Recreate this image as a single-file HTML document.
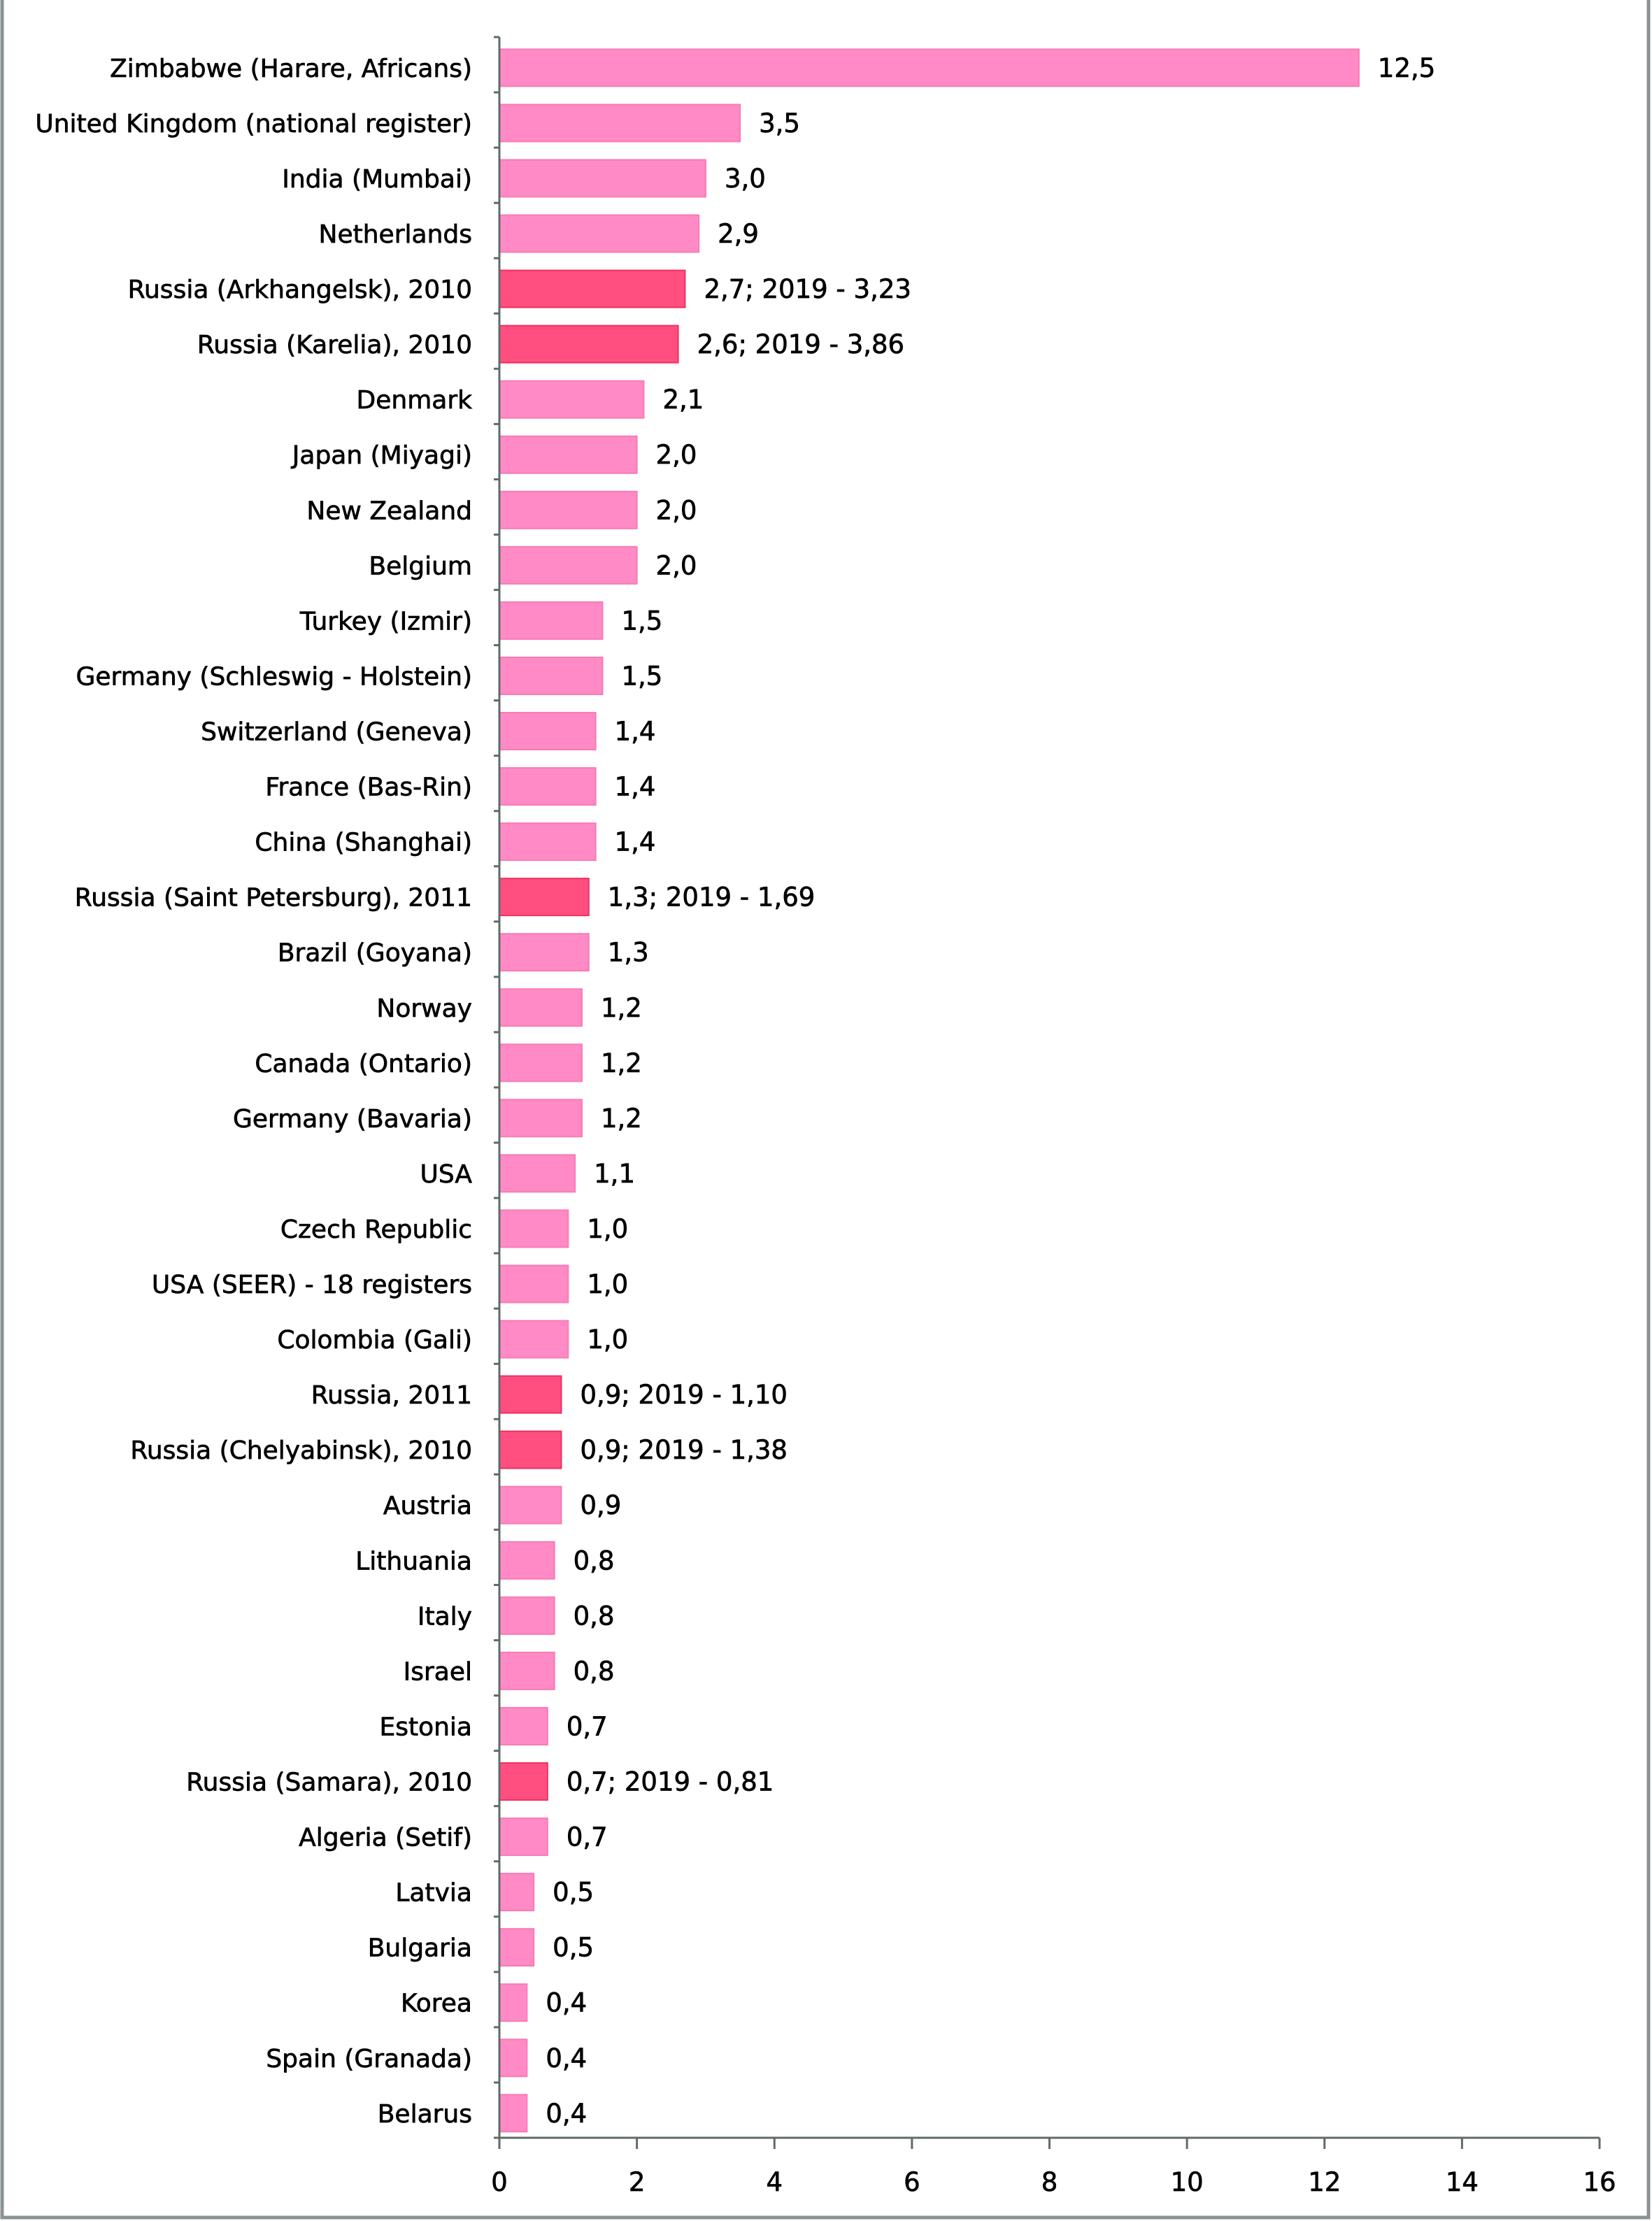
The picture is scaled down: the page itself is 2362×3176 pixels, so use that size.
<!DOCTYPE html>
<html><head><meta charset="utf-8"><style>
html,body{margin:0;padding:0;background:#fff}
svg{display:block}
text{font-family:"DejaVu Sans","Liberation Sans",sans-serif;fill:#000;stroke:#000;stroke-width:0.7px}
</style></head><body>
<svg id="chart" width="2362" height="3176" viewBox="0 0 2362 3176">
<rect x="3" y="-5" width="2354" height="3176" fill="#fff" stroke="#8a9296" stroke-width="5"/>
<g id="bars"></g>
<g id="axes"></g>
</svg>
<script>
const categories=["Zimbabwe (Harare, Africans)","United Kingdom (national register)","India (Mumbai)","Netherlands","Russia (Arkhangelsk), 2010","Russia (Karelia), 2010","Denmark","Japan (Miyagi)","New Zealand","Belgium","Turkey (Izmir)","Germany (Schleswig - Holstein)","Switzerland (Geneva)","France (Bas-Rin)","China (Shanghai)","Russia (Saint Petersburg), 2011","Brazil (Goyana)","Norway","Canada (Ontario)","Germany (Bavaria)","USA","Czech Republic","USA (SEER) - 18 registers","Colombia (Gali)","Russia, 2011","Russia (Chelyabinsk), 2010","Austria","Lithuania","Italy","Israel","Estonia","Russia (Samara), 2010","Algeria (Setif)","Latvia","Bulgaria","Korea","Spain (Granada)","Belarus"];
const values=[12.5,3.5,3.0,2.9,2.7,2.6,2.1,2.0,2.0,2.0,1.5,1.5,1.4,1.4,1.4,1.3,1.3,1.2,1.2,1.2,1.1,1.0,1.0,1.0,0.9,0.9,0.9,0.8,0.8,0.8,0.7,0.7,0.7,0.5,0.5,0.4,0.4,0.4];
const labels2019=[null,null,null,null,"3,23","3,86",null,null,null,null,null,null,null,null,null,"1,69",null,null,null,null,null,null,null,null,"1,10","1,38",null,null,null,null,null,"0,81",null,null,null,null,null,null];
const xTicks=[0,2,4,6,8,10,12,14,16];
const NS="http://www.w3.org/2000/svg";
const X0=714,X1=2287,Y0=53,Y1=3057,XMAX=16;
const x=v=>X0+(v/XMAX)*(X1-X0);
const band=(Y1-Y0)/categories.length;
const y=i=>Y0+i*band;
function mk(tag,attrs,parent){const e=document.createElementNS(NS,tag);for(const k in attrs)e.setAttribute(k,attrs[k]);parent.appendChild(e);return e;}
const gb=document.getElementById('bars'),ga=document.getElementById('axes');
categories.forEach((c,i)=>{
  const hl=labels2019[i]!==null;
  const top=y(i)+band*0.22,h=band*0.67;
  const r=mk('rect',{x:x(0),y:top,width:x(values[i])-x(0),height:h,fill:hl?'#ff4f80':'#ff8ac6',stroke:hl?'#f0305e':'#f77bb4','stroke-width':2},gb);
  
  
  const cy=top+h/2+13;
  const t=mk('text',{x:675,y:cy,'text-anchor':'end','font-size':36},gb);
  t.textContent=c;
  
  
  const v=mk('text',{x:x(values[i])+27,y:cy,'font-size':37},gb);
  v.textContent=values[i].toFixed(1).replace('.',',')+(hl?'; 2019 - '+labels2019[i]:'');
  
  
});
const yl=mk('line',{x1:X0,y1:Y0,x2:X0,y2:Y1,stroke:'#5f6b6b','stroke-width':3},ga);


for(let i=0;i<=categories.length;i++){
  const tk=mk('line',{x1:X0-8,y1:y(i),x2:X0,y2:y(i),stroke:'#5f6b6b','stroke-width':3},ga);
  
  
}
const xl=mk('line',{x1:X0,y1:Y1,x2:X1,y2:Y1,stroke:'#5f6b6b','stroke-width':3},ga);


xTicks.forEach(t=>{
  const tk=mk('line',{x1:x(t),y1:Y1,x2:x(t),y2:Y1+16,stroke:'#5f6b6b','stroke-width':3},ga);
  
  
  const tl=mk('text',{x:x(t),y:Y1+76,'text-anchor':'middle','font-size':37},ga);
  tl.textContent=t;
  
  
});
</script>
</body></html>
